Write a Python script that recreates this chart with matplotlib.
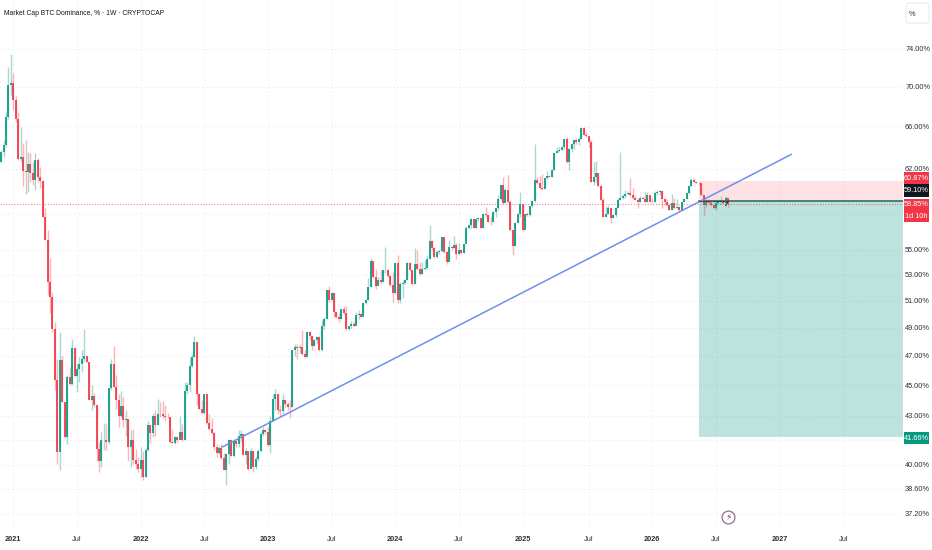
import numpy as np
import matplotlib
matplotlib.use('Agg')
import matplotlib.pyplot as plt
from matplotlib.patches import Rectangle, FancyBboxPatch

# weekly closes, highs and lows, one row per ten weeks (first bar is the week of 2020-11-30)
first_open = 62.6
closes = [
    63.56, 64.18, 66.95, 70.16, 70.33, 68.62, 66.7, 62.9, 63.1, 61.8,
    61.65, 62.4, 61.6, 61.0, 62.8, 61.2, 60.9, 57.7, 55.8, 52.4,
    51.3, 48.9, 45.33, 40.76, 46.69, 43.9, 41.67, 45.55, 45.1, 47.57,
    45.6, 46.1, 46.4, 46.8, 47.0, 46.6, 44.0, 44.3, 43.7, 40.95,
    40.2, 41.47, 41.5, 41.35, 44.8, 46.45, 44.9, 44.05, 43.0, 43.65,
    42.75, 42.8, 41.05, 41.5, 40.3, 40.05, 39.75, 40.3, 39.3, 40.9,
    42.45, 41.9, 43.0, 42.45, 43.15, 43.1, 43.0, 42.95, 42.9, 41.35,
    41.3, 41.65, 41.47, 42.0, 41.5, 44.6, 45.0, 46.3, 46.9, 48.0,
    44.45, 43.45, 43.2, 44.4, 42.55, 42.2, 41.9, 41.05, 40.7, 41.0,
    40.4, 39.67, 40.65, 41.47, 40.55, 41.45, 41.25, 41.75, 41.85, 40.6,
    40.85, 39.75, 40.8, 39.85, 40.35, 40.8, 41.85, 42.1, 42.0, 41.2,
    42.7, 44.1, 44.4, 43.35, 43.3, 44.0, 43.75, 43.6, 43.55, 47.4,
    47.6, 47.55, 47.6, 47.15, 46.9, 48.7, 48.4, 47.7, 48.1, 48.35,
    47.4, 49.15, 49.6, 51.8, 51.05, 51.55, 50.15, 49.75, 49.6, 50.35,
    50.05, 48.9, 49.1, 49.3, 49.15, 49.95, 50.0, 49.8, 50.8, 51.05,
    52.0, 54.1, 52.8, 52.1, 52.55, 52.4, 53.35, 53.4, 52.9, 52.2,
    51.55, 53.95, 51.05, 52.3, 52.35, 52.55, 53.95, 53.4, 52.25, 53.85,
    53.45, 53.05, 53.45, 53.5, 54.2, 55.7, 55.1, 54.4, 54.8, 54.85,
    56.0, 54.8, 54.0, 55.2, 55.1, 55.4, 54.65, 55.0, 54.75, 55.45,
    56.75, 57.0, 57.55, 56.8, 57.55, 57.65, 56.8, 58.0, 57.85, 57.3,
    57.25, 58.15, 58.45, 59.3, 60.5, 58.95, 60.1, 59.0, 56.6, 55.3,
    57.2, 58.0, 58.85, 56.6, 57.95, 57.85, 58.65, 59.1, 61.0, 60.65,
    60.2, 60.15, 61.1, 61.35, 61.25, 61.9, 63.45, 63.65, 63.75, 64.0,
    64.75, 62.6, 63.8, 64.3, 64.65, 64.5, 64.75, 65.8, 65.2, 65.1,
    64.5, 60.8, 61.25, 61.6, 60.45, 59.2, 57.75, 58.0, 58.45, 57.6,
    57.9, 58.45, 59.2, 59.4, 59.5, 59.7, 59.8, 59.6, 59.35, 59.2,
    59.05, 59.4, 59.3, 59.05, 59.6, 59.05, 59.0, 59.8, 59.9, 59.95,
    59.3, 59.05, 58.75, 58.35, 58.95, 58.45, 58.6, 58.3, 59.05, 59.3,
    59.8, 60.4, 60.95, 60.8, 60.7, 60.65, 59.6, 58.75, 59.2, 58.95,
    58.75, 58.45, 58.95, 59.05, 59.15, 58.95, 59.4, 58.85,
]
highs = [
    63.7, 64.67, 67.44, 72.1, 73.5, 71.4, 69.0, 67.4, 65.9, 64.4,
    64.7, 63.5, 63.4, 62.6, 63.4, 63.0, 62.1, 60.95, 58.45, 56.6,
    54.3, 51.65, 49.4, 46.8, 48.7, 47.0, 43.9, 45.67, 46.25, 48.2,
    47.57, 46.45, 46.9, 47.38, 48.9, 47.0, 46.5, 45.0, 44.5, 43.65,
    41.35, 42.0, 42.55, 42.5, 44.8, 46.75, 47.7, 45.65, 44.45, 44.6,
    44.2, 43.35, 42.8, 42.1, 42.2, 40.95, 40.45, 41.05, 40.85, 41.0,
    42.7, 42.4, 43.2, 43.35, 44.1, 43.9, 43.95, 43.7, 43.2, 42.9,
    42.15, 41.75, 41.7, 43.0, 42.5, 45.2, 45.2, 46.9, 47.1, 48.4,
    48.0, 44.5, 44.0, 44.45, 43.95, 43.1, 42.85, 42.0, 41.25, 41.15,
    41.25, 40.7, 40.7, 41.55, 41.45, 41.55, 41.5, 42.1, 42.1, 41.75,
    41.0, 40.85, 41.0, 40.85, 40.55, 40.95, 42.0, 42.3, 42.2, 42.3,
    43.0, 44.45, 44.75, 44.4, 43.7, 44.45, 44.0, 43.9, 44.0, 47.4,
    47.85, 47.8, 47.8, 48.85, 47.4, 48.7, 48.75, 48.4, 48.2, 48.4,
    48.4, 49.55, 49.8, 51.8, 52.1, 51.65, 51.6, 50.15, 50.05, 50.4,
    50.6, 50.6, 49.15, 49.45, 49.5, 50.15, 50.3, 50.1, 50.85, 51.1,
    52.7, 54.3, 54.1, 53.45, 52.8, 53.35, 53.4, 55.2, 53.45, 53.0,
    53.2, 53.95, 54.55, 52.45, 52.6, 52.65, 54.0, 54.0, 53.4, 55.1,
    54.95, 54.0, 54.0, 54.15, 54.55, 57.0, 55.75, 55.2, 54.95, 54.95,
    56.05, 56.05, 54.9, 55.75, 55.25, 56.15, 55.5, 55.5, 55.05, 55.55,
    56.95, 57.1, 57.6, 57.55, 57.6, 57.75, 57.5, 58.05, 58.55, 57.9,
    57.8, 58.25, 58.5, 59.6, 60.55, 61.25, 60.2, 61.4, 59.17, 56.6,
    57.25, 58.05, 59.9, 58.85, 58.0, 58.15, 58.7, 59.2, 64.3, 61.2,
    61.3, 61.5, 61.15, 61.75, 61.45, 61.95, 63.5, 64.0, 64.0, 64.1,
    64.8, 65.0, 63.9, 64.4, 64.7, 64.85, 65.0, 65.9, 65.95, 65.4,
    65.1, 64.67, 62.6, 62.7, 61.6, 60.5, 59.35, 58.7, 58.75, 58.45,
    58.0, 58.55, 59.35, 63.5, 59.7, 60.05, 60.0, 61.1, 60.2, 59.6,
    59.4, 59.5, 59.5, 59.9, 59.9, 59.6, 59.4, 59.95, 60.05, 60.05,
    59.95, 59.3, 59.3, 58.95, 59.7, 59.4, 59.3, 58.7, 59.1, 59.4,
    59.85, 60.5, 61.1, 61.1, 60.9, 60.8, 60.7, 59.65, 59.3, 59.3,
    59.05, 58.75, 59.2, 59.3, 59.5, 59.15, 59.5, 59.4,
]
lows = [
    62.6, 63.05, 64.0, 66.7, 69.1, 67.61, 66.4, 62.78, 62.6, 60.4,
    59.7, 59.9, 60.8, 60.5, 60.05, 60.8, 60.2, 57.7, 55.8, 51.4,
    50.06, 48.7, 44.66, 40.06, 39.67, 43.9, 41.6, 41.22, 45.0, 45.0,
    45.6, 44.55, 45.2, 45.9, 46.55, 46.6, 44.0, 43.4, 43.6, 40.2,
    39.55, 39.85, 40.9, 40.9, 41.25, 44.7, 44.9, 43.45, 42.3, 42.95,
    42.3, 41.75, 40.2, 39.85, 40.05, 39.75, 39.55, 39.3, 39.1, 39.3,
    40.85, 41.3, 41.65, 41.75, 42.45, 42.9, 42.85, 42.7, 42.85, 41.3,
    41.3, 41.25, 41.4, 41.6, 41.45, 41.47, 44.4, 44.55, 46.2, 46.9,
    43.7, 43.45, 43.1, 43.1, 42.5, 42.1, 41.85, 40.9, 40.45, 40.65,
    40.35, 39.67, 38.85, 40.05, 40.5, 40.45, 41.05, 41.05, 41.35, 40.6,
    40.05, 39.67, 40.35, 39.6, 39.75, 40.25, 40.75, 41.75, 41.85, 41.15,
    40.7, 42.7, 43.35, 43.15, 42.9, 43.15, 43.6, 43.35, 42.85, 43.55,
    47.0, 46.75, 47.2, 47.05, 46.85, 47.2, 48.1, 47.4, 47.7, 47.85,
    47.35, 47.3, 48.9, 49.6, 50.9, 51.05, 49.8, 49.7, 49.4, 49.6,
    50.0, 48.85, 48.8, 49.0, 49.1, 49.35, 49.6, 49.75, 50.0, 50.75,
    51.05, 52.0, 52.75, 51.9, 52.3, 52.3, 52.4, 53.1, 52.8, 52.1,
    50.9, 51.55, 50.8, 50.8, 51.2, 52.3, 52.55, 53.3, 52.2, 52.25,
    53.35, 53.0, 53.05, 53.4, 53.45, 54.2, 55.0, 54.3, 54.3, 54.65,
    54.8, 54.7, 53.8, 54.15, 55.0, 55.1, 54.2, 54.65, 54.7, 54.75,
    55.7, 56.7, 56.75, 56.75, 56.8, 57.35, 56.75, 56.8, 57.7, 57.25,
    57.0, 57.3, 57.75, 58.35, 59.2, 58.85, 59.0, 58.95, 56.5, 54.55,
    55.3, 57.2, 57.7, 56.55, 56.95, 57.8, 57.8, 58.6, 59.05, 60.6,
    60.15, 60.1, 60.2, 61.05, 61.2, 61.2, 61.85, 63.4, 63.5, 63.7,
    63.85, 62.55, 61.85, 63.55, 63.85, 64.25, 64.2, 64.75, 65.15, 65.0,
    64.0, 60.75, 60.5, 60.8, 60.3, 59.15, 57.7, 57.75, 57.95, 57.2,
    57.6, 57.75, 58.45, 59.15, 59.3, 59.35, 59.6, 59.5, 59.3, 59.15,
    58.45, 59.0, 59.25, 59.0, 59.0, 59.0, 58.9, 59.0, 59.6, 59.65,
    58.45, 58.75, 58.7, 58.3, 58.35, 58.4, 58.4, 58.25, 58.3, 59.0,
    59.25, 59.75, 60.4, 60.75, 60.65, 60.5, 59.55, 57.85, 58.6, 58.9,
    58.7, 58.4, 58.3, 58.8, 58.85, 58.8, 58.8, 58.6,
]

# 58 and 41.5 have a grid line but their labels sit behind the price boxes in the reference
price_ticks = [74, 70, 66, 62, 58, 55, 53, 51, 49, 47, 45, 43, 41.5, 40, 38.6, 37.2]
price_labels = ['74.00%', '70.00%', '66.00%', '62.00%', '', '55.00%', '53.00%', '51.00%', '49.00%',
                '47.00%', '45.00%', '43.00%', '', '40.00%', '38.60%', '37.20%']
date_ticks = [5, 31, 57, 83, 109, 135, 161, 187, 213, 240, 266, 292, 318, 344]
date_labels = ['2021', 'Jul', '2022', 'Jul', '2023', 'Jul', '2024', 'Jul', '2025', 'Jul', '2026', 'Jul', '2027', 'Jul']

# trend line ends (week number, price) and the short position levels
trend_x = [90.1, 323]
trend_y = [41.05, 63.34]
entry = 59.10
stop = 60.87
target = 41.66
last_price = 58.85
pos_start = 285.1

GREEN = '#089981'
RED = '#f23645'
W, H = 932, 550
TEXT_SIZE = 5.3

plt.rcParams['font.family'] = ['Liberation Sans', 'DejaVu Sans']

fig = plt.figure(figsize=(W / 100, H / 100), dpi=100, facecolor='white')
ax = fig.add_axes([0, 22 / H, 903 / W, 528 / H])
ax.set_yscale('log')
ax.set_xlim(-0.43, 368.4)
ax.set_ylim(36.43, 79.56)
for s in ax.spines.values():
    s.set_visible(False)

ax.set_yticks(price_ticks)
ax.set_yticklabels(price_labels)
ax.minorticks_off()
ax.yaxis.tick_right()
ax.tick_params(axis='y', length=0, pad=1.5, labelsize=TEXT_SIZE, labelcolor='#2a2e39')
ax.set_xticks(date_ticks)
ax.set_xticklabels(date_labels)
ax.tick_params(axis='x', length=0, pad=5.5, labelsize=TEXT_SIZE, labelcolor='#2a2e39')
for lab in ax.get_xticklabels():
    if lab.get_text() != 'Jul':
        lab.set_fontweight('bold')
ax.grid(True, color='#e8eaf0', lw=0.8, ls=(0, (1, 2.5)))
ax.set_axisbelow(True)

closes = np.array(closes)
highs = np.array(highs)
lows = np.array(lows)
opens = np.r_[first_open, closes[:-1]]
weeks = np.arange(len(closes))
colors = np.where(closes >= opens, GREEN, RED)

# position tool
ax.fill_between([pos_start, 368.4], entry, stop, color=RED, alpha=0.15, lw=0, zorder=1)
ax.fill_between([pos_start, 368.4], target, entry, color=GREEN, alpha=0.27, lw=0, zorder=1)
ax.plot([pos_start, 368.4], [entry, entry], color='#2f6f68', lw=1.2, zorder=2)

ax.axhline(last_price, color=RED, lw=0.8, ls=(0, (1, 1.5)), alpha=0.6, zorder=2)

ax.vlines(weeks, lows, highs, colors=colors, lw=1.0, alpha=0.36, zorder=3, capstyle='butt')
ax.vlines(weeks, np.minimum(opens, closes), np.maximum(opens, closes), colors=colors, lw=1.25, zorder=4, capstyle='butt')

ax.plot(trend_x, trend_y, color='#6f8ff0', lw=1.1, zorder=5, solid_capstyle='butt')
ax.plot([pos_start, weeks[-1]], [entry, entry], color='#333333', lw=0.8, ls=(0, (2, 1)), zorder=6)
ax.plot([weeks[-1] - 1, weeks[-1]], [58.7, entry], color='#333333', lw=0.8, zorder=6)

# flash icon under the last candles
ax.scatter([297], [37.03], s=85, facecolor='white', edgecolor='#9a6a8c', lw=0.9, zorder=6, clip_on=False)
ax.text(297, 37.03, '\u26a1', family='DejaVu Sans', fontsize=6.5, color='#8c3a4a', ha='center', va='center', zorder=7)


def price_label(y0, y1, color, lines):
    # box on the price scale, given in pixels from the top of the image
    fig.add_artist(Rectangle((904 / W, 1 - y1 / H), 25 / W, (y1 - y0) / H, transform=fig.transFigure,
                             facecolor=color, edgecolor='none', zorder=5))
    step = (y1 - y0) / len(lines)
    for i, t in enumerate(lines):
        fig.text(916.5 / W, 1 - (y0 + step * (i + 0.5)) / H, t, color='white', fontsize=TEXT_SIZE,
                 ha='center', va='center', zorder=6)


price_label(172, 184, RED, ['60.87%'])
price_label(184, 197, '#131722', ['59.10%'])
price_label(199, 222, RED, ['58.85%', '1d 10h'])
price_label(432, 444, GREEN, ['41.66%'])

fig.add_artist(FancyBboxPatch((906 / W, 1 - 23 / H), 23 / W, 20 / H, transform=fig.transFigure,
                              boxstyle='round,pad=0,rounding_size=0.004', facecolor='white', edgecolor='#e8eaf0', lw=0.8))
fig.text(912 / W, 1 - 14 / H, '%', fontsize=TEXT_SIZE, color='#2a2e39', ha='center', va='center', zorder=6)
fig.text(4 / W, 1 - 13.5 / H, 'Market Cap BTC Dominance, % \u00b7 1W \u00b7 CRYPTOCAP', fontsize=4.9,
         color='#131722', ha='left', va='center')

fig.savefig('out.png', dpi=100)
